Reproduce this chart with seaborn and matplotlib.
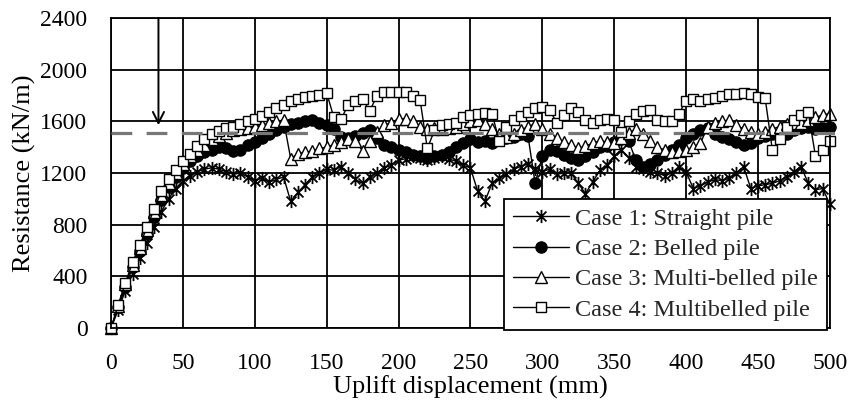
import numpy as np
import pandas as pd
import matplotlib
matplotlib.use("Agg")
import matplotlib.pyplot as plt
from matplotlib.path import Path
import seaborn as sns

# ---------------- data ----------------
displacement = list(range(0, 505, 5))  # mm

case1_straight = [0, 140, 290, 420, 540, 660, 780, 900, 1000, 1080,
                  1140, 1180, 1210, 1230, 1240, 1230, 1210, 1190, 1200, 1170,
                  1140, 1160, 1130, 1150, 1170, 980, 1050, 1110, 1170, 1200,
                  1230, 1220, 1250, 1200, 1150, 1120, 1170, 1200, 1240, 1260,
                  1300, 1310, 1330, 1320, 1300, 1320, 1330, 1310, 1290, 1260,
                  1240, 1060, 980, 1120, 1160, 1190, 1230, 1250, 1270, 1230,
                  1210, 1230, 1190, 1200, 1200, 1120, 1040, 1130, 1220, 1260,
                  1330, 1380, 1320, 1250, 1230, 1210, 1200, 1180, 1200, 1250,
                  1210, 1080, 1100, 1130, 1150, 1140, 1160, 1200, 1250, 1080,
                  1100, 1110, 1120, 1140, 1170, 1210, 1250, 1120, 1070, 1080,
                  960]

case2_belled = [0, 160, 320, 470, 600, 730, 860, 990, 1090, 1170,
                1240, 1290, 1330, 1360, 1380, 1400, 1390, 1370, 1380, 1420,
                1440, 1470, 1500, 1530, 1560, 1580, 1590, 1600, 1610, 1590,
                1570, 1540, 1480, 1470, 1490, 1510, 1530, 1470, 1420, 1400,
                1380, 1360, 1340, 1330, 1320, 1330, 1340, 1360, 1400, 1430,
                1460, 1440, 1450, 1430, 1460, 1470, 1480, 1500, 1490, 1120,
                1330, 1380, 1370, 1340, 1320, 1300, 1330, 1360, 1400, 1410,
                1440, 1460, 1450, 1300, 1250, 1270, 1300, 1340, 1380, 1420,
                1470, 1500, 1530, 1550, 1500, 1480, 1460, 1440, 1420, 1430,
                1470, 1490, 1500, 1480, 1500, 1530, 1550, 1560, 1540, 1550,
                1560]

case3_multi = [0, 170, 340, 490, 620, 760, 900, 1030, 1120, 1200,
               1270, 1330, 1380, 1420, 1460, 1490, 1510, 1530, 1540, 1550,
               1560, 1570, 1585, 1600, 1610, 1310, 1350, 1360, 1370, 1390,
               1400, 1420, 1440, 1460, 1450, 1370, 1450, 1520, 1570, 1590,
               1620, 1620, 1600, 1560, 1540, 1550, 1540, 1550, 1560, 1580,
               1600, 1610, 1580, 1540, 1500, 1480, 1500, 1530, 1560, 1580,
               1540, 1500, 1470, 1440, 1420, 1390, 1410, 1430, 1450, 1440,
               1430, 1470, 1510, 1540, 1500, 1450, 1400, 1380, 1360, 1370,
               1380, 1400, 1430, 1560, 1590, 1600, 1610, 1570, 1540, 1520,
               1500, 1520, 1540, 1560, 1580, 1590, 1590, 1610, 1630, 1650,
               1660]

case4_multibelled = [0, 180, 350, 510, 640, 780, 920, 1060, 1150, 1220,
                     1290, 1350, 1410, 1460, 1500, 1525, 1545, 1560, 1580, 1600,
                     1615, 1645, 1670, 1700, 1725, 1760, 1775, 1785, 1795, 1805,
                     1820, 1630, 1615, 1730, 1755, 1770, 1680, 1800, 1825, 1830,
                     1830, 1825, 1800, 1765, 1390, 1530, 1570, 1580, 1590, 1630,
                     1650, 1660, 1665, 1660, 1450, 1560, 1610, 1640, 1670, 1700,
                     1710, 1690, 1590, 1650, 1700, 1670, 1610, 1590, 1610, 1620,
                     1610, 1520, 1600, 1660, 1680, 1690, 1610, 1600, 1600, 1660,
                     1760, 1770, 1760, 1770, 1780, 1800, 1810, 1815, 1820, 1810,
                     1790, 1780, 1380, 1460, 1560, 1610, 1650, 1670, 1330, 1380,
                     1450]

labels = ["Case 1: Straight pile", "Case 2: Belled pile",
          "Case 3: Multi-belled pile", "Case 4: Multibelled pile"]
series = [case1_straight, case2_belled, case3_multi, case4_multibelled]

reference_resistance = 1510   # dashed line (kN/m)
arrow_displacement = 33       # mm
arrow_tip_resistance = 1570

x_ticks = [0, 50, 100, 150, 200, 250, 300, 350, 400, 450, 500]
y_ticks = [0, 400, 800, 1200, 1600, 2000, 2400]

df = pd.concat([pd.DataFrame({"disp": displacement, "res": s, "case": lab})
                for s, lab in zip(series, labels)], ignore_index=True)

# ---------------- style ----------------
sns.set_theme(style="white")
plt.rcParams["font.family"] = ["Liberation Serif", "DejaVu Serif"]

star = Path([(0, -1), (0, 1), (-0.75, -0.75), (0.75, 0.75), (-0.75, 0.75), (0.75, -0.75)],
            [Path.MOVETO, Path.LINETO] * 3)
marker_styles = [
    dict(marker=star, markerfacecolor="none", markersize=9.5, markeredgewidth=1.3),
    dict(marker="o", markerfacecolor="black", markersize=8.2, markeredgewidth=0.8),
    dict(marker="^", markerfacecolor="white", markersize=8.2, markeredgewidth=1.0),
    dict(marker="s", markerfacecolor="white", markersize=7.8, markeredgewidth=1.0),
]

fig = plt.figure(figsize=(8.52, 4.07), dpi=100)
ax = fig.add_axes([0.1303, 0.194, 0.974 - 0.1303, 0.9558 - 0.194])

handles = []
for lab, st in zip(labels, marker_styles):
    sns.lineplot(data=df[df["case"] == lab], x="disp", y="res", ax=ax,
                 color="black", lw=1.0, markeredgecolor="black",
                 clip_on=False, legend=False, **st)
    handles.append(ax.lines[-1])

ax.plot([0, 505], [reference_resistance] * 2, color="#777777", lw=2.3,
        dashes=(6.5, 4.5), clip_on=False, zorder=5)
ax.annotate("", xy=(arrow_displacement, arrow_tip_resistance),
            xytext=(arrow_displacement, 2400),
            arrowprops=dict(arrowstyle="->", color="black", lw=1.4,
                            mutation_scale=20, shrinkA=0, shrinkB=0))

ax.set_xlim(0, 500)
ax.set_ylim(0, 2400)
ax.set_xticks(x_ticks)
ax.set_yticks(y_ticks)
ax.grid(True, color="black", lw=1.3)
ax.set_axisbelow(True)
for sp in ax.spines.values():
    sp.set_color("black")
    sp.set_linewidth(1.3)
ax.tick_params(axis="both", length=0, labelsize=17, colors="black")
ax.tick_params(axis="x", pad=18)
ax.tick_params(axis="y", pad=17)
ax.set_xlabel("Uplift displacement (mm)", fontsize=19, color="black", labelpad=1)
ax.set_ylabel("Resistance (kN/m)", fontsize=19, color="black", labelpad=3)

leg = ax.legend(handles=handles, labels=labels, loc="lower right",
                bbox_to_anchor=(0.9965, -0.006),
                fontsize=17.5, frameon=True, fancybox=False, framealpha=1,
                edgecolor="black", borderaxespad=0.0, handlelength=2.3,
                handletextpad=0.25, labelspacing=0.34, borderpad=0.38)
leg.get_frame().set_linewidth(1.3)
leg.set_zorder(10)

fig.savefig("out.png", dpi=100)
